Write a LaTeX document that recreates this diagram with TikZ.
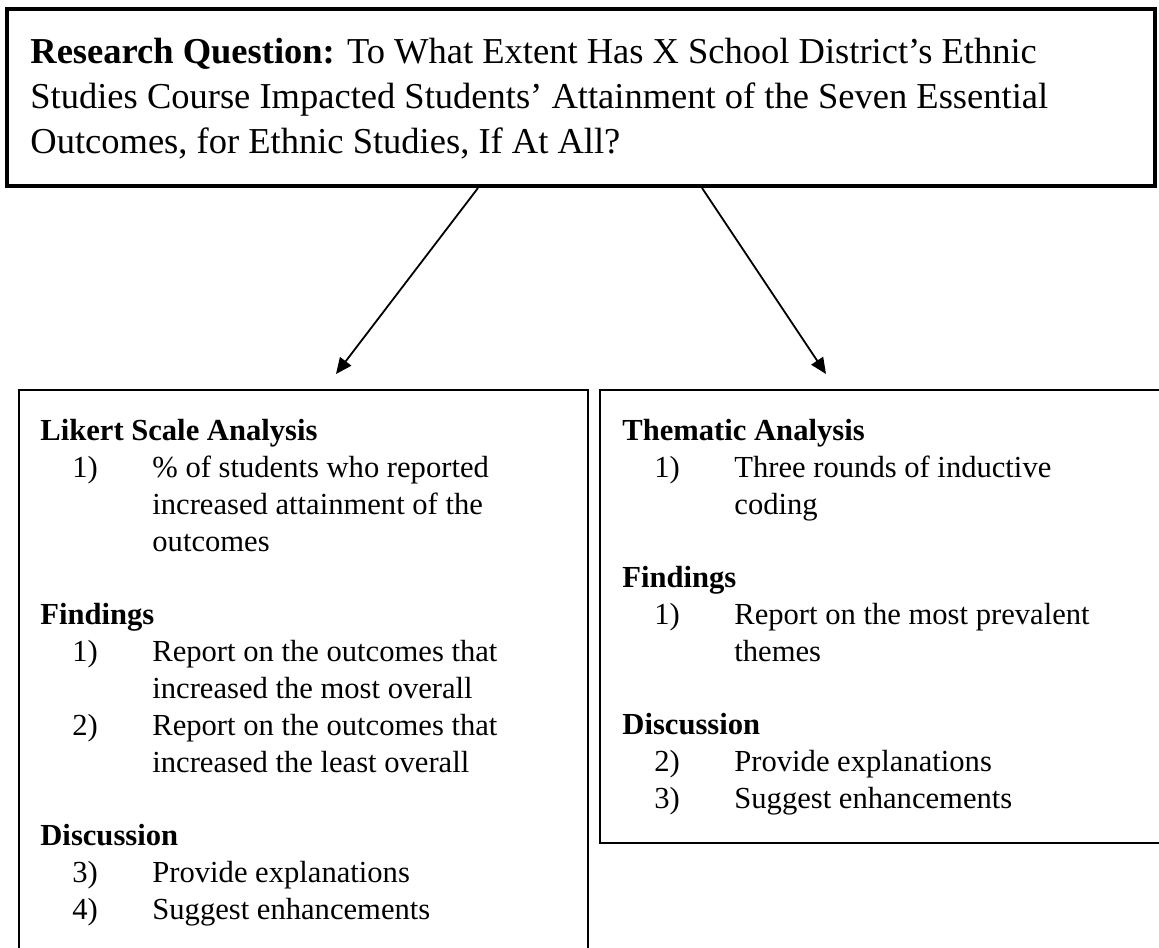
\documentclass[tikz,border=0pt]{standalone}
\usepackage{fontspec}
\setmainfont{Liberation Serif}
\usetikzlibrary{arrows.meta, positioning}

\newcommand{\numitem}[1]{\hspace*{16pt}\makebox[40pt][l]{#1}}
\newcommand{\contline}{\hspace*{56pt}}

\tikzset{
  rqbox/.style={draw, line width=2pt, minimum width=574pt, minimum height=88.5pt, inner sep=0pt},
  panel/.style={draw, line width=1.1pt, anchor=north west, inner sep=0pt},
  rqtext/.style={anchor=base west, align=left, inner sep=0pt,
    font=\fontsize{18.25}{22.25}\selectfont},
  paneltext/.style={anchor=base west, align=left, inner sep=0pt,
    font=\fontsize{15.3}{18.5}\selectfont},
  arr/.style={-{Triangle[length=8pt, width=7pt]}, line width=0.9pt}
}

\begin{document}
\begin{tikzpicture}[x=0.5pt, y=-0.5pt]
\useasboundingbox (0,0) rectangle (1159,947);
\fill[white] (0,0) rectangle (1159,947);

% research question (base = last line)
\node[rqbox] (rq) at (581,97.5) {};
\node[rqtext] (rqtxt) at (30,153)
  {\textbf{Research Question:} To What Extent Has X School District’s Ethnic\\
   Studies Course Impacted Students’ Attainment of the Seven Essential\\
   Outcomes, for Ethnic Studies, If At All?};

% the two analyses
\node[panel, minimum width=284.5pt, minimum height=305.5pt] (likert) at (18,389) {};
\node[panel, minimum width=288pt, minimum height=226.5pt] (thematic) at (599,389) {};

\node[paneltext] (likerttxt) at (40,919)
  {\textbf{Likert Scale Analysis}\\
   \numitem{1)}\% of students who reported\\
   \contline increased attainment of the\\
   \contline outcomes\\[18pt]
   \textbf{Findings}\\
   \numitem{1)}Report on the outcomes that\\
   \contline increased the most overall\\
   \numitem{2)}Report on the outcomes that\\
   \contline increased the least overall\\[18pt]
   \textbf{Discussion}\\
   \numitem{3)}Provide explanations\\
   \numitem{4)}Suggest enhancements};

\node[paneltext] (thematictxt) at (622,808)
  {\textbf{Thematic Analysis}\\
   \numitem{1)}Three rounds of inductive\\
   \contline coding\\[18pt]
   \textbf{Findings}\\
   \numitem{1)}Report on the most prevalent\\
   \contline themes\\[18pt]
   \textbf{Discussion}\\
   \numitem{2)}Provide explanations\\
   \numitem{3)}Suggest enhancements};

% arrows
\coordinate (ltip) at (336,374);
\coordinate (rtip) at (826,374);
\draw[arr] ([xshift=-51.5pt]rq.south) -- (ltip);
\draw[arr] ([xshift=60.5pt]rq.south) -- (rtip);
\end{tikzpicture}
\end{document}
